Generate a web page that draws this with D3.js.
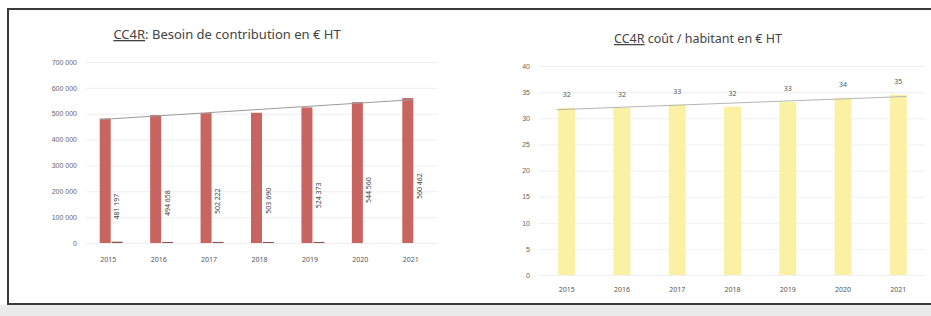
<!DOCTYPE html>
<html>
<head>
<meta charset="utf-8">
<script src="https://cdn.jsdelivr.net/npm/d3@7"></script>
<style>
	body { margin: 0; background: #fff; }
	svg { display: block; font-family: "Noto Sans", "Liberation Sans", sans-serif; }
</style>
</head>
<body>
<div id="chart"></div>
<script>
const years = ['2015', '2016', '2017', '2018', '2019', '2020', '2021'];

// CC4R : besoin de contribution en € HT
const contribution = [481197, 494658, 502222, 503690, 524373, 544560, 560462];
const contributionLabels = ['481 197', '494 658', '502 222', '503 690', '524 373', '544 560', '560 462'];
const smallSeries = [5000, 4000, 4000, 4000, 4000, 0, 0];
const contributionTicks = [0, 100000, 200000, 300000, 400000, 500000, 600000, 700000];

// CC4R : coût / habitant en € HT
const costPerHead = [32.0, 32.0, 32.6, 32.2, 33.1, 33.9, 34.5];
const costLabels = ['32', '32', '33', '32', '33', '34', '35'];
const costTicks = [0, 5, 10, 15, 20, 25, 30, 35, 40];

const width = 931;
const height = 316;

const svg = d3.select('#chart').append('svg')
	.attr('width', width)
	.attr('height', height);

// scanned page frame
svg.append('rect')
	.attr('x', 0).attr('y', 305)
	.attr('width', width).attr('height', 11)
	.attr('fill', '#eaeaea');

svg.append('rect')
	.attr('x', 8).attr('y', 9)
	.attr('width', 940).attr('height', 295)
	.attr('fill', 'none')
	.attr('stroke', '#3a3a3a')
	.attr('stroke-width', 2);

function trend(values) {
	// least squares line, like the excel trendline
	const n = values.length;
	const mx = d3.mean(d3.range(n));
	const my = d3.mean(values);
	let num = 0, den = 0;
	values.forEach((v, i) => {
		num += (i - mx) * (v - my);
		den += (i - mx) * (i - mx);
	});
	const slope = num / den;
	return i => my + slope * (i - mx);
}

function drawLeft() {
	const x = d3.scaleBand().domain(years).range([86, 439]);
	const y = d3.scaleLinear().domain([0, 700000]).range([243, 62]);
	const g = svg.append('g');

	g.append('text')
		.attr('x', 227).attr('y', 39)
		.attr('text-anchor', 'middle')
		.attr('font-size', 13)
		.attr('fill', '#444')
		.call(t => {
			t.append('tspan').attr('text-decoration', 'underline').text('CC4R');
			t.append('tspan').text(': Besoin de contribution  en € HT');
		});

	const axis = g.append('g')
		.attr('transform', 'translate(86,0)')
		.call(d3.axisLeft(y).tickValues(contributionTicks).tickSize(-352).tickPadding(9)
			.tickFormat(d => d3.format(',')(d).replace(/,/g, ' ')));
	axis.select('.domain').remove();
	axis.selectAll('.tick line').attr('stroke', '#eeeeee');
	axis.selectAll('.tick text').attr('font-size', 7).attr('fill', '#666');

	g.selectAll('.bar')
		.data(contribution)
		.enter().append('rect')
		.attr('class', 'bar')
		.attr('x', (d, i) => x(years[i]) + x.bandwidth() / 2 - 11.5)
		.attr('width', 11)
		.attr('y', d => y(d))
		.attr('height', d => y(0) - y(d))
		.attr('fill', '#c96561');

	g.selectAll('.small')
		.data(smallSeries)
		.enter().append('rect')
		.attr('class', 'small')
		.attr('x', (d, i) => x(years[i]) + x.bandwidth() / 2 + 0.5)
		.attr('width', 11)
		.attr('y', d => y(d))
		.attr('height', d => y(0) - y(d))
		.attr('fill', '#8e5250');

	const t = trend(contribution);
	g.append('line')
		.attr('x1', x(years[0]) + x.bandwidth() / 2 - 11.5)
		.attr('x2', x(years[6]) + x.bandwidth() / 2)
		.attr('y1', y(t(0)))
		.attr('y2', y(t(6)))
		.attr('stroke', '#9a9a9a')
		.attr('stroke-width', 1);

	g.selectAll('.vlabel')
		.data(contribution)
		.enter().append('text')
		.attr('class', 'vlabel')
		.attr('transform', (d, i) => `translate(${x(years[i]) + x.bandwidth() / 2 + 8},${y(d) + 88}) rotate(-90)`)
		.attr('text-anchor', 'middle')
		.attr('font-size', 7)
		.attr('fill', '#444')
		.text((d, i) => contributionLabels[i]);

	g.selectAll('.year')
		.data(years)
		.enter().append('text')
		.attr('class', 'year')
		.attr('x', d => x(d) + x.bandwidth() / 2 - 3)
		.attr('y', 262)
		.attr('text-anchor', 'middle')
		.attr('font-size', 7)
		.attr('fill', '#555')
		.text(d => d);
}

function drawRight() {
	const x = d3.scaleBand().domain(years).range([539, 926]);
	const y = d3.scaleLinear().domain([0, 40]).range([275, 66]);
	const g = svg.append('g');

	g.append('text')
		.attr('x', 698).attr('y', 43)
		.attr('text-anchor', 'middle')
		.attr('font-size', 12.5)
		.attr('fill', '#444')
		.call(t => {
			t.append('tspan').attr('text-decoration', 'underline').text('CC4R');
			t.append('tspan').text(' coût / habitant en € HT');
		});

	const axis = g.append('g')
		.attr('transform', 'translate(539,0)')
		.call(d3.axisLeft(y).tickValues(costTicks).tickSize(-386).tickPadding(9));
	axis.select('.domain').remove();
	axis.selectAll('.tick line').attr('stroke', '#f0f0f0');
	axis.selectAll('.tick text').attr('font-size', 7).attr('fill', '#666');

	g.selectAll('.bar')
		.data(costPerHead)
		.enter().append('rect')
		.attr('class', 'bar')
		.attr('x', (d, i) => x(years[i]) + x.bandwidth() / 2 - 8.5)
		.attr('width', 17)
		.attr('y', d => y(d))
		.attr('height', d => y(0) - y(d))
		.attr('fill', '#fbf1a4');

	const t = trend(costPerHead);
	g.append('line')
		.attr('x1', x(years[0]) + x.bandwidth() / 2 - 10)
		.attr('x2', x(years[6]) + x.bandwidth() / 2 + 8)
		.attr('y1', y(t(0)))
		.attr('y2', y(t(6)))
		.attr('stroke', '#b5b5b5')
		.attr('stroke-width', 1);

	g.selectAll('.vlabel')
		.data(costPerHead)
		.enter().append('text')
		.attr('class', 'vlabel')
		.attr('x', (d, i) => x(years[i]) + x.bandwidth() / 2)
		.attr('y', d => y(d) - 11)
		.attr('text-anchor', 'middle')
		.attr('font-size', 7)
		.attr('fill', '#555')
		.text((d, i) => costLabels[i]);

	g.selectAll('.year')
		.data(years)
		.enter().append('text')
		.attr('class', 'year')
		.attr('x', d => x(d) + x.bandwidth() / 2)
		.attr('y', 292)
		.attr('text-anchor', 'middle')
		.attr('font-size', 7)
		.attr('fill', '#555')
		.text(d => d);
}

drawLeft();
drawRight();
</script>
</body>
</html>
